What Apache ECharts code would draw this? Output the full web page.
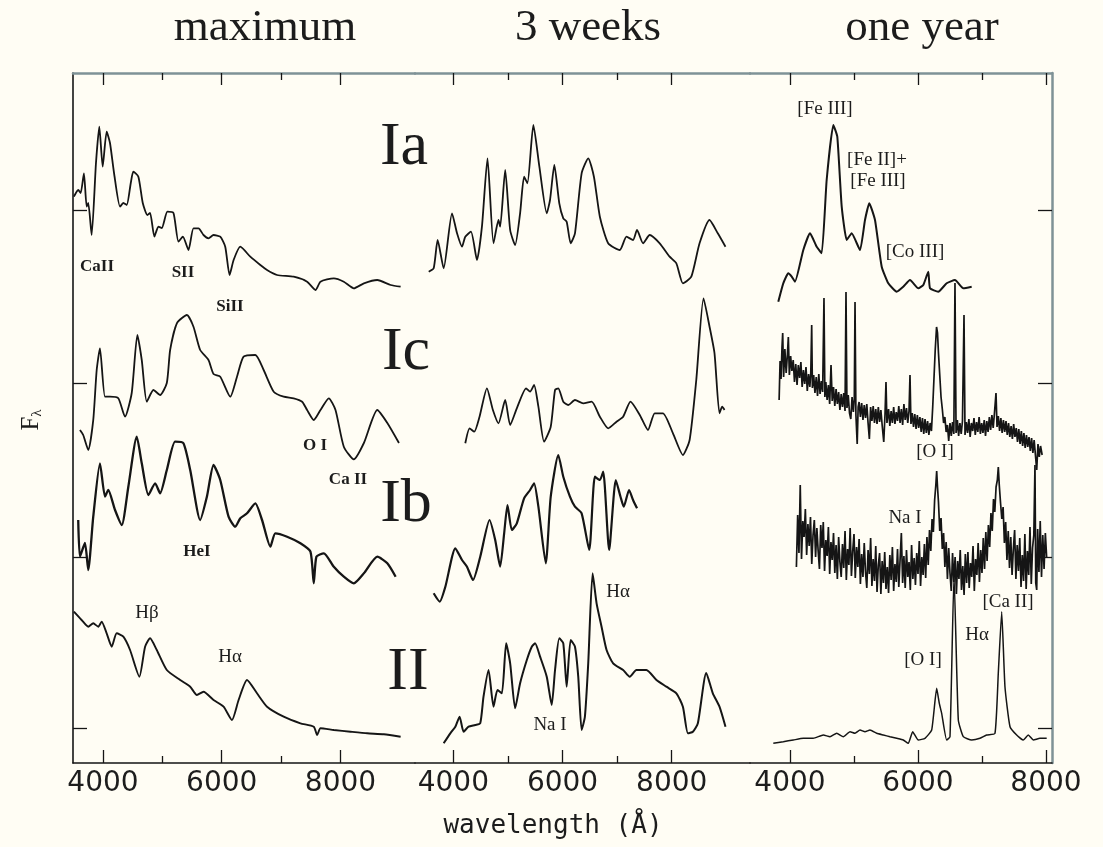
<!DOCTYPE html>
<html><head><meta charset="utf-8">
<script src="https://cdn.jsdelivr.net/npm/echarts@6/dist/echarts.min.js"></script>
<style>html,body{margin:0;padding:0;background:#fffdf4;}#c{width:1103px;height:847px;}</style>
</head><body><div id="c"></div>
<script>
// ---------- labels / ticks ----------
const panelTitles = ['maximum', '3 weeks', 'one year'];
const typeLabels = ['Ia', 'Ic', 'Ib', 'II'];
const majorTicks = [4000, 6000, 8000];
const minorTicks = [5000, 7000];
const baselineTicks = [3.5, 20.6, 38.0, 55.3];

// ---------- panel 1 : maximum ----------
const max_Ia_wl = [3510,3583,3624,3679,3725,3752,3809,3882,3938,3995,4062,4118,4186,4287,4343,4400,4468,4511,4596,4670,4748,4793,4866,4933,4991,5085,5187,5271,5345,5440,5524,5609,5693,5777,5862,5975,6059,6132,6200,6313,6481,6650,6763,6932,7212,7438,7579,7663,7888,8056,8225,8394,8620,8845,9013];
const max_Ia_f = [56.63,57.3,57.0,58.97,55.63,56.0,52.8,60.0,63.63,59.63,63.13,62.0,59.0,55.63,56.0,55.8,58.0,59.13,58.63,56.0,54.8,55.0,52.63,53.63,53.5,55.13,55.0,52.13,52.63,51.3,53.47,53.47,52.8,52.47,52.8,52.63,51.63,48.8,50.3,51.63,50.63,49.8,49.3,48.8,48.63,48.13,47.3,48.13,48.47,48.13,47.47,47.97,48.3,47.8,47.63];

const max_Ic_wl = [3612,3667,3752,3836,3894,3949,4034,4118,4258,4371,4484,4579,4653,4738,4849,4962,5075,5131,5244,5413,5524,5637,5777,5862,5975,6144,6257,6368,6566,6706,6875,7043,7212,7354,7438,7550,7663,7803,7916,8056,8225,8394,8620,8789,8985];
const max_Ic_f = [33.3,32.8,31.3,34.3,39.3,41.47,36.63,36.63,36.47,34.63,37.0,42.8,40.3,36.13,37.3,36.8,38.0,41.3,43.97,44.8,43.63,41.3,40.3,38.9,38.63,36.63,38.63,40.63,40.8,39.3,37.13,36.63,36.47,36.13,35.3,34.3,35.3,36.47,35.3,31.63,30.37,32.0,35.3,34.0,32.0];

const max_Ib_wl = [3583,3612,3696,3752,3836,3949,4034,4089,4203,4316,4427,4569,4653,4765,4878,4962,5075,5215,5355,5469,5637,5750,5862,5975,6115,6228,6313,6426,6566,6679,6819,6903,7101,7325,7494,7550,7595,7719,7888,8056,8225,8394,8620,8789,8929];
const max_Ib_f = [24.3,20.63,22.0,19.3,24.63,29.97,26.63,27.3,25.3,23.8,27.63,32.63,29.97,26.8,27.97,26.97,29.3,32.13,31.97,29.3,24.3,26.63,29.8,28.3,24.63,23.63,24.47,24.97,25.97,24.3,21.63,22.97,22.63,21.97,21.13,17.97,20.63,20.97,19.63,18.63,17.97,18.97,20.63,19.97,18.63];

const max_II_wl = [3510,3640,3752,3836,3921,3978,4062,4147,4231,4343,4456,4613,4709,4793,4906,5075,5300,5469,5582,5693,5862,6031,6172,6284,6426,6594,6763,7043,7325,7550,7607,7663,7888,8169,8451,8731,9013];
const max_II_f = [15.13,14.3,13.63,13.97,13.63,14.13,12.97,11.63,12.97,12.63,11.3,8.63,11.63,12.47,11.3,9.3,8.3,7.63,6.8,7.13,6.3,5.63,4.3,6.3,8.3,6.97,5.63,4.63,3.97,3.63,2.8,3.47,3.3,3.13,2.97,2.87,2.63];

// ---------- panel 2 : 3 weeks ----------
const wk_Ia_wl = [3549,3640,3713,3823,3976,4068,4159,4219,4323,4433,4524,4626,4736,4827,4858,4950,5041,5132,5223,5296,5357,5466,5576,5711,5771,5850,5941,6014,6076,6149,6228,6350,6471,6575,6684,6836,7049,7172,7292,7365,7475,7597,7780,7962,8085,8205,8359,8510,8693,8844,8985];
const wk_Ia_f = [49.13,49.47,52.3,49.47,54.97,52.97,51.63,52.63,53.13,50.3,53.63,60.47,51.97,54.3,53.63,59.3,53.3,51.8,54.97,58.63,57.97,63.8,59.63,54.97,56.3,59.8,55.97,54.47,54.13,51.97,52.97,58.97,60.47,58.63,54.63,51.97,51.3,52.63,52.3,53.3,51.97,52.8,51.97,50.63,49.97,47.97,48.63,51.97,54.3,52.97,51.63];

const wk_Ic_wl = [4219,4298,4383,4480,4615,4725,4827,4950,5041,5163,5333,5406,5479,5558,5662,5784,5863,5923,6014,6105,6228,6379,6533,6684,6836,6989,7110,7245,7415,7566,7689,7840,8023,8205,8328,8450,8583,8693,8784,8875,8925,8967];
const wk_Ic_f = [31.97,33.47,33.13,34.63,37.47,35.3,33.97,36.3,33.8,35.47,37.47,37.13,37.8,35.63,32.13,33.63,37.3,37.47,36.13,35.8,36.3,35.97,36.13,34.63,33.47,34.13,34.63,36.13,34.8,33.3,34.97,34.97,32.97,30.8,32.3,38.3,46.47,43.63,40.97,34.97,35.63,35.3];

const wk_Ib_wl = [3640,3750,3854,4037,4159,4250,4360,4493,4663,4767,4858,4931,4992,5072,5163,5296,5406,5479,5558,5693,5784,5923,6014,6136,6228,6350,6489,6593,6684,6745,6854,6976,7062,7122,7219,7292,7365];
const wk_Ib_f = [16.97,16.13,17.63,21.47,20.3,19.63,18.3,20.63,24.3,22.3,19.63,22.97,25.8,23.3,23.97,26.47,27.3,27.97,25.63,19.97,26.63,30.8,28.63,26.63,25.63,24.97,21.3,28.63,28.3,29.13,21.3,28.3,26.63,25.63,27.3,26.3,25.47];

const wk_II_wl = [3823,3945,4037,4115,4188,4279,4402,4493,4553,4645,4736,4809,4889,4968,5041,5132,5223,5346,5437,5497,5589,5711,5802,5863,5941,6014,6076,6149,6228,6288,6350,6410,6471,6551,6624,6715,6807,6927,7110,7232,7354,7537,7720,7902,8085,8205,8297,8388,8479,8633,8753,8875,8985];
const wk_II_f = [1.97,2.97,3.63,4.63,3.13,3.63,3.8,3.97,6.63,9.3,5.63,7.3,6.97,11.97,9.97,5.47,7.97,10.3,11.63,11.97,10.63,8.63,5.8,9.3,12.47,11.97,7.63,12.3,11.63,8.63,3.3,4.63,9.97,18.97,15.97,13.63,11.3,9.97,9.3,8.63,9.3,9.3,8.3,7.63,6.97,5.63,2.97,3.13,3.97,9.0,6.97,5.63,3.63];

// ---------- panel 3 : one year ----------
const yr_Ia_wl = [3817,3895,3973,4027,4078,4208,4313,4417,4495,4573,4677,4739,4808,4886,4964,5094,5172,5239,5328,5433,5536,5667,5770,5875,6005,6083,6161,6188,6317,6448,6578,6708,6839];
const yr_Ia_f = [46.13,47.97,48.97,48.63,48.13,51.3,52.97,51.63,50.97,58.3,63.8,62.63,55.63,52.3,52.97,51.3,54.3,55.97,54.3,49.63,47.97,47.13,47.63,48.3,47.47,47.8,49.13,47.47,47.13,47.97,48.3,47.47,47.63];

const yr_Ic_wl = [
 3830,3845,3860,3875,3886,3900,3920,3940,3960,3974,
 3990,4010,4030,4050,4070,4090,4110,4130,4150,4170,
 4190,4210,4230,4250,4270,4290,4310,4325,4339,4350,
 4370,4390,4410,4430,4450,4470,4490,4510,4531,4545,
 4560,4580,4600,4620,4641,4660,4680,4700,4720,4740,
 4760,4780,4800,4820,4840,4860,4875,4890,4910,4930,
 4950,4970,4990,5005,5016,5030,5050,5065,5080,5100,
 5120,5140,5160,5180,5200,5220,5240,5260,5280,5300,
 5320,5340,5360,5380,5400,5420,5440,5465,5485,5500,
 5515,5540,5560,5580,5600,5620,5640,5660,5680,5700,
 5720,5740,5760,5780,5800,5820,5840,5860,5875,5890,
 5910,5930,5950,5970,5990,6010,6030,6050,6070,6090,
 6110,6130,6150,6170,6190,6210,6230,6250,6270,6290,
 6305,6320,6340,6360,6380,6400,6420,6440,6460,6480,
 6500,6520,6540,6560,6578,6595,6615,6635,6655,6675,
 6695,6719,6735,6755,6775,6795,6815,6835,6855,6875,
 6895,6915,6935,6955,6975,6995,7015,7035,7055,7075,
 7095,7115,7135,7155,7175,7195,7219,7235,7255,7275,
 7295,7315,7335,7355,7375,7395,7415,7435,7455,7475,
 7495,7515,7535,7555,7575,7595,7615,7635,7655,7675,
 7695,7715,7735,7755,7775,7795,7815,7835,7855,7875,
 7895,7915,7940];
const yr_Ic_f = [
 36.3,40.2,38.4,41.6,43.0,38.6,41.4,39.0,40.9,42.6,
 38.8,40.7,39.2,40.3,38.1,39.9,37.8,39.8,38.5,40.1,
 37.6,39.3,37.9,39.6,37.2,38.9,37.6,39.0,43.8,37.5,
 38.8,37.0,38.6,36.7,38.9,36.9,38.2,37.1,46.5,36.6,
 38.1,36.3,37.8,35.9,39.8,36.2,37.6,35.7,37.4,35.9,
 37.1,35.3,36.9,35.6,37.0,35.2,47.1,35.5,36.8,35.0,
 34.4,36.6,35.1,36.4,46.1,34.8,31.9,35.6,36.1,34.6,
 36.0,34.3,35.8,34.5,35.9,34.0,32.4,35.6,34.2,35.7,
 34.0,35.4,33.9,35.6,34.1,35.3,33.8,32.1,34.9,38.1,
 34.0,35.4,33.7,35.2,34.0,35.6,33.9,35.1,34.2,35.7,
 34.0,35.4,33.8,35.9,34.3,35.5,34.0,35.2,38.8,33.9,
 35.0,33.6,34.9,33.4,34.8,33.5,34.6,33.1,34.5,32.9,
 34.4,33.0,34.2,32.8,34.0,33.2,35.6,38.5,41.4,43.6,
 43.0,41.0,38.8,36.6,35.4,34.0,34.6,33.1,33.8,32.2,
 34.0,32.7,34.1,32.9,48.0,33.0,34.3,32.7,34.0,32.9,
 34.2,44.8,32.8,34.1,33.0,34.4,32.6,34.0,33.2,34.5,
 32.8,34.1,33.1,34.6,32.9,34.0,33.0,34.3,32.7,34.2,
 33.1,34.6,33.3,34.8,33.5,35.0,37.0,33.6,34.7,33.2,
 34.5,33.0,34.3,33.1,34.2,32.8,34.0,32.6,33.7,32.4,
 33.9,32.6,33.5,32.1,33.4,31.9,33.2,31.7,33.0,31.5,
 32.8,31.6,32.6,31.2,32.5,31.0,32.3,30.8,29.3,31.9,
 30.6,31.7,30.8];

const yr_Ib_wl = [
 4100,4120,4140,4160,4180,4200,4220,4240,4260,4280,
 4300,4320,4340,4360,4380,4400,4420,4440,4460,4480,
 4500,4520,4540,4560,4580,4600,4620,4640,4660,4680,
 4700,4720,4740,4760,4780,4800,4820,4840,4860,4880,
 4900,4920,4940,4960,4980,5000,5020,5040,5060,5080,
 5100,5120,5140,5160,5180,5200,5220,5240,5260,5280,
 5300,5320,5340,5360,5380,5400,5420,5440,5460,5480,
 5500,5520,5540,5560,5580,5600,5620,5640,5660,5680,
 5700,5720,5740,5760,5780,5800,5820,5840,5860,5880,
 5900,5920,5940,5960,5980,6000,6020,6040,6060,6080,
 6100,6120,6140,6160,6180,6200,6220,6240,6260,6280,
 6292,6305,6320,6340,6360,6380,6400,6420,6440,6460,
 6480,6500,6520,6540,6560,6580,6600,6620,6640,6660,
 6680,6700,6720,6740,6760,6780,6800,6820,6840,6860,
 6880,6900,6920,6940,6960,6980,7000,7020,7040,7060,
 7080,7100,7120,7140,7160,7180,7200,7220,7240,7255,
 7270,7290,7310,7330,7350,7370,7390,7410,7430,7450,
 7470,7490,7510,7530,7550,7570,7590,7610,7630,7650,
 7670,7690,7710,7730,7750,7770,7790,7810,7828,7840,
 7855,7870,7890,7910,7930,7950,7970,7990,8010];
const yr_Ib_f = [
 19.6,24.8,21.0,27.8,20.4,24.2,22.6,25.4,20.8,23.9,
 21.7,24.6,19.9,22.8,24.3,20.6,23.5,21.2,19.4,23.8,
 21.5,24.1,19.2,22.3,20.7,23.6,18.9,22.1,20.3,23.0,
 19.0,21.8,18.4,22.6,20.1,18.6,21.9,19.5,23.2,18.3,
 21.4,19.8,23.5,18.7,21.2,22.9,18.5,21.6,19.6,22.4,
 17.9,20.9,18.6,22.0,19.1,17.5,21.3,18.9,22.5,17.7,
 20.4,18.2,21.7,17.1,19.8,21.0,16.9,20.2,18.0,21.1,
 17.4,19.6,17.0,20.8,18.3,21.6,17.2,19.9,18.1,21.4,
 17.6,20.3,23.0,18.0,20.7,17.5,21.3,18.6,20.1,17.3,
 21.8,18.4,20.5,17.8,21.0,18.9,22.2,17.7,20.6,18.8,
 21.9,18.5,22.6,19.8,23.3,21.2,24.4,23.1,26.3,27.9,
 29.2,27.6,26.1,23.2,24.5,21.4,23.0,19.6,22.1,18.4,
 21.5,19.0,17.2,21.0,18.1,20.6,16.9,20.2,18.4,21.3,
 17.3,19.7,16.8,20.9,18.0,21.1,17.5,20.0,18.6,21.7,
 17.2,20.4,18.8,22.0,18.1,21.3,19.0,22.5,19.4,23.1,
 20.2,23.8,21.6,25.0,23.2,26.4,25.1,27.6,28.3,29.6,
 27.8,26.0,24.4,25.6,22.0,24.1,20.3,23.2,19.5,22.6,
 18.8,21.4,23.3,18.4,21.8,19.2,22.5,17.6,20.8,18.2,
 22.9,17.4,21.2,18.8,23.6,17.9,21.5,22.8,29.8,18.0,
 17.3,23.4,19.1,24.2,18.6,22.8,19.4,23.0,20.6];

const yr_II_wl = [3739,3895,4052,4208,4364,4520,4625,4730,4833,4938,5016,5094,5172,5250,5355,5458,5563,5667,5770,5848,5917,6005,6109,6214,6292,6333,6370,6448,6500,6563,6630,6708,6839,6969,7073,7203,7255,7308,7359,7438,7542,7645,7723,7802,7906,8011];
const yr_II_f = [1.97,2.13,2.3,2.47,2.47,2.8,2.63,2.97,2.63,3.13,2.97,3.3,3.13,3.3,2.97,2.8,2.63,2.47,2.3,1.97,3.13,2.3,2.47,3.3,7.47,5.97,4.97,2.3,2.63,18.8,4.3,2.63,2.3,2.47,2.8,2.97,9.0,15.13,7.63,3.63,2.8,2.3,2.8,2.3,2.47,2.47];

// ---------- layout ----------
const INK = '#151515';
const FRAME2 = '#7f9296';
const grids = [
  {left: 73, top: 73, width: 342, height: 690},
  {left: 415, top: 73, width: 335, height: 690},
  {left: 750, top: 73, width: 302, height: 690}
];
const xRanges = [[3495, 9255], [3298, 9434], [3375, 8094]];

const xAxis = [];
xRanges.forEach((r, g) => {
  const base = {gridIndex: g, type: 'value', min: r[0], max: r[1], splitLine: {show: false}};
  xAxis.push(Object.assign({}, base, {position: 'bottom',
    axisLine: {show: true, lineStyle: {color: INK, width: 1.6}},
    axisTick: {show: true, inside: true, length: 13, customValues: majorTicks, lineStyle: {color: INK, width: 1.3}},
    axisLabel: {show: true, customValues: majorTicks, formatter: v => String(v), fontFamily: 'DejaVu Sans', fontSize: 28, color: '#1d1d1d', margin: 7}}));
  xAxis.push(Object.assign({}, base, {position: 'bottom', axisLine: {show: false},
    axisTick: {show: true, inside: true, length: 7, customValues: minorTicks, lineStyle: {color: INK, width: 1.3}},
    axisLabel: {show: false}}));
  xAxis.push(Object.assign({}, base, {position: 'top',
    axisLine: {show: true, lineStyle: {color: FRAME2, width: 2.5}},
    axisTick: {show: true, inside: true, length: 12, customValues: majorTicks, lineStyle: {color: INK, width: 1.3}},
    axisLabel: {show: false}}));
  xAxis.push(Object.assign({}, base, {position: 'top', axisLine: {show: false},
    axisTick: {show: true, inside: true, length: 7, customValues: minorTicks, lineStyle: {color: INK, width: 1.3}},
    axisLabel: {show: false}}));
});

const yAxis = [
  {gridIndex: 0, type: 'value', min: 0, max: 69, position: 'left', splitLine: {show: false},
   axisLine: {show: true, lineStyle: {color: INK, width: 1.6}},
   axisTick: {show: true, inside: true, length: 14, customValues: baselineTicks, lineStyle: {color: INK, width: 1.3}},
   axisLabel: {show: false}},
  {gridIndex: 1, type: 'value', min: 0, max: 69, show: false},
  {gridIndex: 2, type: 'value', min: 0, max: 69, position: 'right', splitLine: {show: false},
   axisLine: {show: true, lineStyle: {color: FRAME2, width: 2.5}},
   axisTick: {show: true, inside: true, length: 14, customValues: baselineTicks, lineStyle: {color: INK, width: 1.3}},
   axisLabel: {show: false}}
];

const spectra = [
  {g: 0, wl: max_Ia_wl, f: max_Ia_f, w: 1.8, s: 0.2},
  {g: 0, wl: max_Ic_wl, f: max_Ic_f, w: 1.8, s: 0.2},
  {g: 0, wl: max_Ib_wl, f: max_Ib_f, w: 2.3, s: 0.2},
  {g: 0, wl: max_II_wl, f: max_II_f, w: 1.9, s: 0.2},
  {g: 1, wl: wk_Ia_wl, f: wk_Ia_f, w: 1.8, s: 0.2},
  {g: 1, wl: wk_Ic_wl, f: wk_Ic_f, w: 1.8, s: 0.2},
  {g: 1, wl: wk_Ib_wl, f: wk_Ib_f, w: 2.2, s: 0.2},
  {g: 1, wl: wk_II_wl, f: wk_II_f, w: 2.0, s: 0.2},
  {g: 2, wl: yr_Ia_wl, f: yr_Ia_f, w: 2.0, s: 0.15},
  {g: 2, wl: yr_Ic_wl, f: yr_Ic_f, w: 1.7, s: 0},
  {g: 2, wl: yr_Ib_wl, f: yr_Ib_f, w: 1.7, s: 0},
  {g: 2, wl: yr_II_wl, f: yr_II_f, w: 1.5, s: 0.15}
];

const series = spectra.map(sp => ({
  type: 'line', xAxisIndex: sp.g * 4, yAxisIndex: sp.g,
  data: sp.wl.map((w, i) => [w, sp.f[i]]),
  showSymbol: false, symbol: 'none', smooth: sp.s, silent: true,
  lineStyle: {color: INK, width: sp.w}
}));

// ---------- text ----------
const SERIF = 'Liberation Serif';
function txt(t, x, y, font, extra) {
  return Object.assign({type: 'text', x: x, y: y, silent: true,
    style: {text: t, font: font, fill: '#1c1c1c', align: 'center', verticalAlign: 'middle'}}, extra || {});
}
const titleX = [265, 588, 922];
const typeY = [148, 353, 505, 673];
const typeX = [404, 406, 406, 408];
const annotations = [
  ['CaII', 97, 267, 'bold 17px'], ['SII', 183, 273, 'bold 17px'], ['SiII', 230, 307, 'bold 17px'],
  ['O I', 315, 446, 'bold 17px'], ['Ca II', 348, 480, 'bold 17px'], ['HeI', 197, 552, 'bold 17px'],
  ['Hβ', 147, 613, '19px'], ['Hα', 230, 657, '19px'],
  ['Hα', 618, 592, '19px'], ['Na I', 550, 725, '19px'],
  ['[Fe III]', 825, 109, '19px'], ['[Fe II]+', 877, 160, '19px'], ['[Fe III]', 878, 181, '19px'],
  ['[Co III]', 915, 252, '19px'], ['[O I]', 935, 452, '19px'], ['Na I', 905, 518, '19px'],
  ['[Ca II]', 1008, 602, '19px'], ['Hα', 977, 635, '19px'], ['[O I]', 923, 660, '19px']
];

const graphic = [];
panelTitles.forEach((t, i) => graphic.push(txt(t, titleX[i], 28, '45px ' + SERIF)));
typeLabels.forEach((t, i) => graphic.push(txt(t, typeX[i], typeY[i], '62px ' + SERIF)));
annotations.forEach(a => graphic.push(txt(a[0], a[1], a[2], a[3] + ' ' + SERIF)));
graphic.push(txt('wavelength (Å)', 553, 826, '26px DejaVu Sans Mono'));
graphic.push({type: 'text', x: 31, y: 420, rotation: Math.PI / 2, silent: true,
  style: {text: '{f|F}{s|λ}', align: 'center', verticalAlign: 'middle', fill: '#1c1c1c',
    rich: {f: {fontSize: 25, fontFamily: SERIF, fill: '#1c1c1c'},
           s: {fontSize: 15, fontFamily: SERIF, fill: '#1c1c1c', padding: [12, 0, 0, 0]}}}});

const chart = echarts.init(document.getElementById('c'), null, {renderer: 'canvas'});
chart.setOption({
  backgroundColor: '#fffdf4',
  animation: false,
  grid: grids.map(g => Object.assign({show: false}, g)),
  xAxis: xAxis,
  yAxis: yAxis,
  series: series,
  graphic: graphic
});
</script>
</body></html>
